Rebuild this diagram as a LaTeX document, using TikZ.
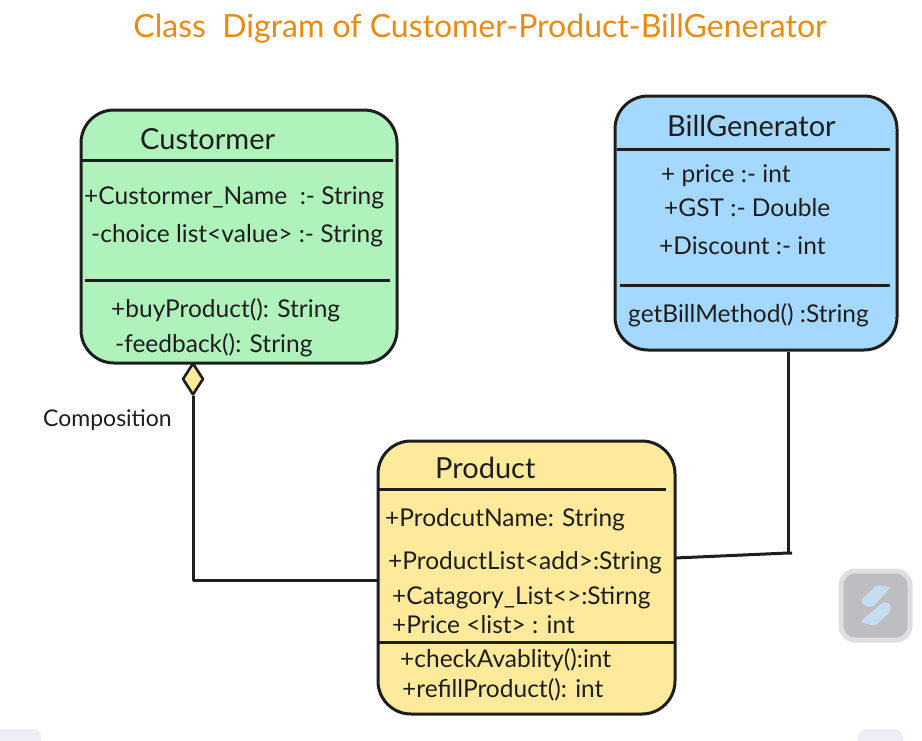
\documentclass[tikz,border=0pt]{standalone}
\usepackage{fontspec}
\setmainfont{Lato}
\usetikzlibrary{shapes.geometric}

\definecolor{custgreen}{HTML}{B0F2BC}
\definecolor{billblue}{HTML}{A5D8FF}
\definecolor{prodyellow}{HTML}{FFEA9B}
\definecolor{inkline}{HTML}{1E1E1E}
\definecolor{titleorange}{HTML}{EB8A12}
\definecolor{badgegray}{HTML}{BDBDC2}
\definecolor{badgerim}{HTML}{DEDFE4}
\definecolor{badgeblue}{HTML}{C4DDF0}
\definecolor{cornerpale}{HTML}{EEEEF6}

\tikzset{
  classbox/.style={draw=inkline, line width=3pt, rounded corners=33pt, inner sep=0pt},
  member/.style={anchor=west, inner sep=0pt, yshift=-2pt, text=inkline, font=\fontsize{24.5}{28}\selectfont},
  classname/.style={member, font=\fontsize{29}{32}\selectfont},
  divider/.style={draw=inkline, line width=3pt},
  link/.style={draw=inkline, line width=3pt, line join=round},
}

\begin{document}
\begin{tikzpicture}[x=1pt,y=-1pt]
\useasboundingbox (0,0) rectangle (922,740);

\node (title) [anchor=center, text=titleorange, font=\fontsize{32}{36}\selectfont] at (480,29) {Class\ \ Digram of Customer-Product-BillGenerator};

% customer
\node (customer) [classbox, fill=custgreen, minimum width=316pt, minimum height=253pt] at (239,236.5) {};
\node (custname) [classname] at (140,137) {Custormer};
\draw [divider] (82,160) -- (393,160);
\node (custattr1) [member] at (84,196) {+Custormer\_Name\ \ :- String};
\node (custattr2) [member] at (91,234) {-choice list<value> :- String};
\draw [divider] (85,280) -- (390,280);
\node (custop1) [member] at (111,308) {+buyProduct(): String};
\node (custop2) [member] at (115,343) {-feedback(): String};

% bill generator
\node (bill) [classbox, fill=billblue, minimum width=282pt, minimum height=254pt] at (756,223) {};
\node (billname) [classname] at (667,124) {BillGenerator};
\draw [divider] (617,149) -- (890,149);
\node (billattr1) [member] at (661,174) {+ price :- int};
\node (billattr2) [member] at (664,206) {+GST :- Double};
\node (billattr3) [member] at (659,244) {+Discount :- int};
\draw [divider] (620,285) -- (890,285);
\node (billop1) [member] at (628,313) {getBillMethod() :String};

% product
\node (product) [classbox, fill=prodyellow, minimum width=297pt, minimum height=273pt] at (526.5,577.5) {};
\node (prodname) [classname] at (435,466) {Product};
\draw [divider] (378,489) -- (666,489);
\node (prodattr1) [member] at (385,518) {+ProdcutName: String};
\node (prodattr2) [member] at (388,561) {+ProductList<add>:String};
\node (prodattr3) [member] at (392,596) {+Catagory\_List<>:Stirng};
\node (prodattr4) [member] at (392,623) {+Price <list> : int};
\draw [divider] (378,642) -- (675,642);
\node (prodop1) [member] at (400,658) {+checkAvablity():int};
\node (prodop2) [member] at (402,688) {+refillProduct(): int};

% composition link
\coordinate (prodleft) at (product.west |- 0,580);
\node (compdiamond) [diamond, draw=inkline, fill=prodyellow, line width=2.6pt, line join=round, minimum width=21pt, minimum height=32pt, inner sep=0pt] at (193,379) {};
\node (complabel) [member, font=\fontsize{23}{26}\selectfont] at (43,418) {Composition};
\draw [link] (compdiamond.south) |- (prodleft);

% bill link
\coordinate (billjoint) at (788,553);
\coordinate (prodright) at (675,558);
\draw [link] (bill.south -| billjoint) -- (billjoint);
\draw [link] (prodright) -- (billjoint) -- ++(4,0);

% corner marks
\fill [fill=badgegray, rounded corners=14pt, draw=badgerim, line width=5pt] (841,571) rectangle (910,640);
\fill [badgeblue, rounded corners=2pt] (877,585) -- (891,587) -- (873,607) -- (864,606) -- (861,600) -- cycle;
\fill [badgeblue, rounded corners=2pt] (883,602) -- (891,604) -- (890,612) -- (875,626) -- (860,622) -- cycle;
\fill [cornerpale, rounded corners=8pt] (-10,729) rectangle (41,750);
\fill [cornerpale, rounded corners=8pt] (858,729) rectangle (903,750);
\end{tikzpicture}
\end{document}
